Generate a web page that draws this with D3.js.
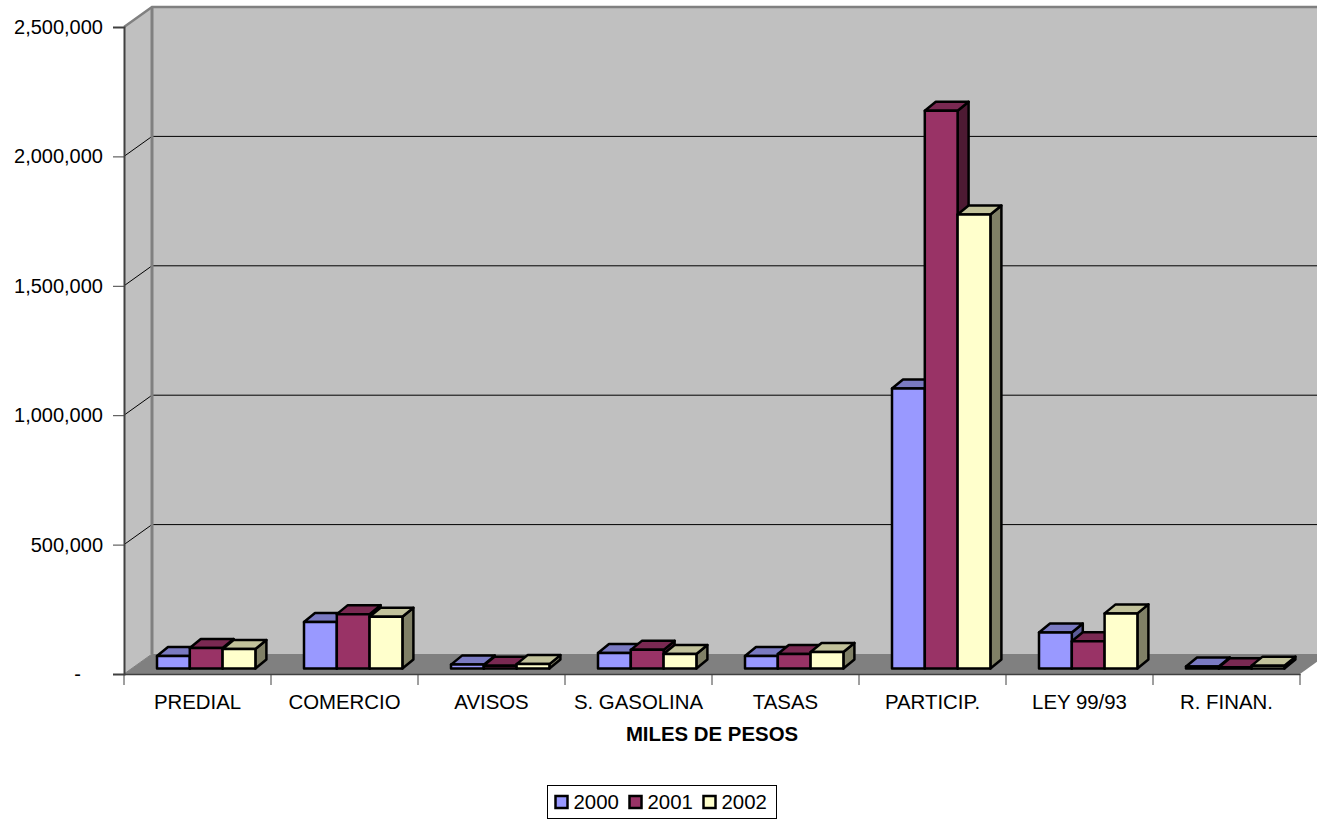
<!DOCTYPE html>
<html>
<head>
<meta charset="utf-8">
<script src="https://cdn.jsdelivr.net/npm/d3@7"></script>
<style>
  html, body { margin: 0; padding: 0; background: #fff; overflow: hidden; }
  text { font-family: "Liberation Sans", Arial, sans-serif; fill: #000; }
</style>
</head>
<body>
<div id="maindiv"></div>
<script>
// values in miles de pesos
var categories = ["PREDIAL", "COMERCIO", "AVISOS", "S. GASOLINA", "TASAS", "PARTICIP.", "LEY 99/93", "R. FINAN."];
var years = ["2000", "2001", "2002"];
var values2000 = [48000, 180000, 15000, 60000, 48000, 1082000, 139000, 8000];
var values2001 = [79000, 210000, 11000, 72000, 56000, 2155000, 105000, 5000];
var values2002 = [75000, 200000, 17000, 56000, 64000, 1754000, 213000, 11000];
var yTicks = [0, 500000, 1000000, 1500000, 2000000, 2500000];

var series = [values2000, values2001, values2002];
var fills = ["#9999ff", "#993366", "#ffffcc"];
var topFills = ["#7a7ac2", "#7a2952", "#c2c29b"];
var sideFills = ["#5c5c99", "#4d1a33", "#808066"];

var width = 1317;
var height = 820;
var fontSize = 20.4;

var svg = d3.select("#maindiv")
    .append("svg")
    .attr("width", width)
    .attr("height", height)
    .style("display", "block");

var plotLeft = 124, plotRight = 1300, plotTop = 27, plotBottom = 674;
var wallDx = 28, wallDy = 20;   // depth of the chart box
var barDx = 11, barDy = 9;      // depth of one bar
var barLift = 5.5;              // bars stand a little behind the front edge

var x = d3.scaleBand().domain(categories).range([plotLeft, plotRight]);
var x1 = d3.scaleBand().domain(years).range([33, 131.4]);
var y = d3.scaleLinear().domain([0, 2500000]).range([plotBottom, plotTop]);

function pts(a) { return a.map(function (p) { return p.join(","); }).join(" "); }

// walls and floor
svg.append("rect")
    .attr("x", plotLeft + wallDx).attr("y", plotTop - wallDy)
    .attr("width", width - plotLeft - wallDx).attr("height", plotBottom - plotTop)
    .attr("fill", "#c0c0c0");
svg.append("polygon")
    .attr("points", pts([[plotLeft, plotTop], [plotLeft + wallDx, plotTop - wallDy], [plotLeft + wallDx, plotBottom - wallDy], [plotLeft, plotBottom]]))
    .attr("fill", "#c0c0c0");
svg.append("polygon")
    .attr("points", pts([[plotLeft, plotBottom], [plotLeft + wallDx, plotBottom - wallDy], [width, plotBottom - wallDy], [width, plotBottom - 17 * wallDy / wallDx], [plotRight, plotBottom]]))
    .attr("fill", "#808080");

// gridlines
yTicks.slice(1, -1).forEach(function (t) {
    svg.append("polyline")
        .attr("points", pts([[plotLeft, y(t)], [plotLeft + wallDx, y(t) - wallDy], [width, y(t) - wallDy]]))
        .attr("fill", "none")
        .attr("stroke", "#000")
        .attr("stroke-width", 1);
});

// box edges
svg.append("polyline")
    .attr("points", pts([[plotLeft, plotTop], [plotLeft + wallDx, plotTop - wallDy], [width, plotTop - wallDy]]))
    .attr("fill", "none").attr("stroke", "#808080").attr("stroke-width", 2.5);
svg.append("line")
    .attr("x1", plotLeft + wallDx).attr("x2", plotLeft + wallDx)
    .attr("y1", plotTop - wallDy).attr("y2", plotBottom - wallDy)
    .attr("stroke", "#808080").attr("stroke-width", 3);
svg.append("line")
    .attr("x1", plotLeft).attr("x2", plotLeft + wallDx)
    .attr("y1", plotBottom).attr("y2", plotBottom - wallDy)
    .attr("stroke", "#808080").attr("stroke-width", 1);

// bars
var barsG = svg.append("g")
    .attr("stroke", "#000")
    .attr("stroke-width", 2.5)
    .attr("stroke-linejoin", "round");

categories.forEach(function (c, i) {
    series.forEach(function (vals, s) {
        var x0 = x(c) + x1(years[s]);
        var x2 = x0 + x1.bandwidth();
        var y0 = y(0) - barLift;
        var yt = y(vals[i]) - barLift;
        var g = barsG.append("g");
        g.append("polygon")
            .attr("points", pts([[x2, yt], [x2 + barDx, yt - barDy], [x2 + barDx, y0 - barDy], [x2, y0]]))
            .attr("fill", sideFills[s]);
        g.append("polygon")
            .attr("points", pts([[x0, yt], [x0 + barDx, yt - barDy], [x2 + barDx, yt - barDy], [x2, yt]]))
            .attr("fill", topFills[s]);
        g.append("rect")
            .attr("x", x0).attr("y", yt)
            .attr("width", x2 - x0).attr("height", y0 - yt)
            .attr("fill", fills[s]);
    });
});

// axes
var yAxis = svg.append("g")
    .attr("transform", "translate(" + plotLeft + ",0)")
    .call(d3.axisLeft(y).tickValues(yTicks).tickSize(11).tickPadding(10)
        .tickFormat(function (d) { return d === 0 ? "-" : d3.format(",")(d); }));
yAxis.selectAll("text").attr("font-size", 20).attr("font-family", null);
// the accounting dash sits left of the other labels
yAxis.selectAll("text").filter(function (d) { return d === 0; }).attr("x", -43);
yAxis.select(".domain").attr("stroke", "#404040").attr("stroke-width", 2);
yAxis.selectAll("line").attr("stroke", "#404040");

var xAxis = svg.append("g")
    .attr("transform", "translate(0," + plotBottom + ")")
    .call(d3.axisBottom(x).tickSize(0).tickPadding(21));
xAxis.selectAll("text").attr("font-size", fontSize).attr("font-family", null);
xAxis.select(".domain").attr("stroke", "#404040").attr("stroke-width", 1.5);
// ticks sit between the categories, not under them
var edges = categories.map(function (c) { return x(c); }).concat([plotRight]);
xAxis.selectAll(".edge").data(edges).enter().append("line")
    .attr("class", "edge")
    .attr("x1", function (d) { return d; })
    .attr("x2", function (d) { return d; })
    .attr("y1", 0).attr("y2", 11)
    .attr("stroke", "#404040");

svg.append("text")
    .attr("x", 712).attr("y", 741)
    .attr("text-anchor", "middle")
    .attr("font-size", fontSize)
    .attr("font-weight", "bold")
    .text("MILES DE PESOS");

// legend
var legend = svg.append("g");
legend.append("rect")
    .attr("x", 547.5).attr("y", 785.5).attr("width", 229).attr("height", 33)
    .attr("fill", "#fff").attr("stroke", "#000").attr("stroke-width", 1);
var legendX = d3.scaleOrdinal().domain(years).range([555.5, 629.5, 703.5]);
years.forEach(function (yr, s) {
    legend.append("rect")
        .attr("x", legendX(yr)).attr("y", 796)
        .attr("width", 12).attr("height", 12)
        .attr("fill", fills[s]).attr("stroke", "#000").attr("stroke-width", 2.5);
    legend.append("text")
        .attr("x", legendX(yr) + 18).attr("y", 809)
        .attr("font-size", fontSize)
        .text(yr);
});
</script>
</body>
</html>
